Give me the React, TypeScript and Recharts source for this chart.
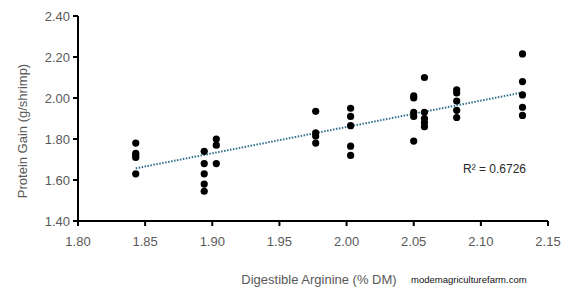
import React from 'react';
import { ScatterChart, Scatter, XAxis, YAxis, ReferenceLine } from 'recharts';

// digestible arginine levels (% DM), one column of dots per level
const argLevels = [1.843, 1.894, 1.903, 1.977, 2.003, 2.05, 2.058, 2.082, 2.131];

// protein gain (g/shrimp) readings at each level
const proteinGain = [
  [1.78, 1.73, 1.72, 1.71, 1.63],
  [1.74, 1.68, 1.63, 1.58, 1.545],
  [1.8, 1.77, 1.68],
  [1.935, 1.83, 1.815, 1.78],
  [1.95, 1.91, 1.865, 1.765, 1.72],
  [2.01, 2.0, 1.93, 1.91, 1.79],
  [2.1, 1.93, 1.9, 1.88, 1.86],
  [2.04, 2.025, 1.985, 1.94, 1.905],
  [2.215, 2.08, 2.015, 1.955, 1.915],
];

const trendX = [1.843, 2.131];
const trendY = [1.657, 2.027];

const xTicks = [1.8, 1.85, 1.9, 1.95, 2.0, 2.05, 2.1, 2.15];
const yTicks = [1.4, 1.6, 1.8, 2.0, 2.2, 2.4];

const points = argLevels.flatMap((x, i) => proteinGain[i].map((y) => ({ x, y })));

const font = '"Liberation Sans", Arial, sans-serif';
const tickStyle = { fontSize: 13, fill: '#595959', fontFamily: font };

const Dot = (props: any) => <circle cx={props.cx} cy={props.cy} r={3.6} fill="#000" />;

export default function App() {
  return (
    <div style={{ position: 'absolute', left: 0, top: 0, width: 576, height: 288, background: '#fff' }}>
      <ScatterChart width={576} height={288} margin={{ top: 16, right: 28, bottom: 0, left: 0 }}>
        <XAxis
          type="number"
          dataKey="x"
          domain={[1.8, 2.15]}
          ticks={xTicks}
          tickFormatter={(v: number) => v.toFixed(2)}
          height={67}
          tickSize={5}
          tickMargin={11}
          axisLine={{ stroke: '#000', strokeWidth: 2 }}
          tickLine={{ stroke: '#000', strokeWidth: 2 }}
          tick={tickStyle}
          allowDataOverflow
        />
        <YAxis
          type="number"
          dataKey="y"
          domain={[1.4, 2.4]}
          ticks={yTicks}
          tickFormatter={(v: number) => v.toFixed(2)}
          width={78}
          tickSize={5}
          tickMargin={3}
          axisLine={{ stroke: '#000', strokeWidth: 2 }}
          tickLine={{ stroke: '#000', strokeWidth: 2 }}
          tick={tickStyle}
          allowDataOverflow
        />
        <ReferenceLine
          segment={[
            { x: trendX[0], y: trendY[0] },
            { x: trendX[1], y: trendY[1] },
          ]}
          stroke="#2f6f8c"
          strokeWidth={2}
          strokeDasharray="1.5 1.5"
        />
        <Scatter data={points} shape={Dot} isAnimationActive={false} />
      </ScatterChart>
      <svg width={576} height={288} style={{ position: 'absolute', left: 0, top: 0, pointerEvents: 'none' }}>
        <text
          x={22}
          y={131}
          transform="rotate(-90 22 131)"
          textAnchor="middle"
          dominantBaseline="central"
          fontSize={13}
          fill="#595959"
          fontFamily={font}
        >
          Protein Gain (g/shrimp)
        </text>
        <text x={319} y={284} textAnchor="middle" fontSize={13} fill="#595959" fontFamily={font}>
          Digestible Arginine (% DM)
        </text>
        <text x={411} y={283} fontSize={9.5} fill="#111" fontFamily={font}>
          modemagriculturefarm.com
        </text>
        <text x={463} y={173} fontSize={12} fill="#2a2a2a" fontFamily={font}>
          R² = 0.6726
        </text>
      </svg>
    </div>
  );
}
